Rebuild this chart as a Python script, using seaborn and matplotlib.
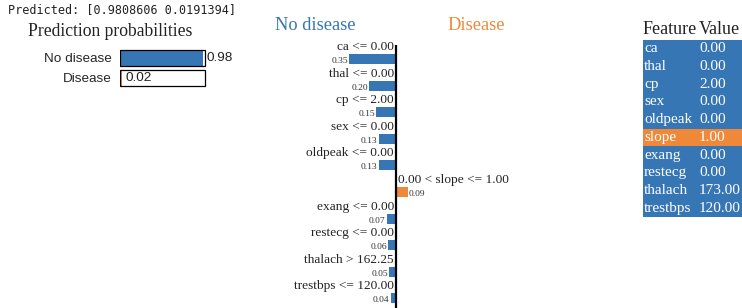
import numpy as np
import pandas as pd
import matplotlib
matplotlib.use("Agg")
import matplotlib.pyplot as plt
import seaborn as sns

# data read from the LIME explanation
class_names = ["No disease", "Disease"]
probs = [0.9808606, 0.0191394]
conditions = ["ca <= 0.00", "thal <= 0.00", "cp <= 2.00", "sex <= 0.00",
              "oldpeak <= 0.00", "0.00 < slope <= 1.00", "exang <= 0.00",
              "restecg <= 0.00", "thalach > 162.25", "trestbps <= 120.00"]
weights = [-0.35, -0.20, -0.15, -0.13, -0.13, 0.09, -0.07, -0.06, -0.05, -0.04]
features = ["ca", "thal", "cp", "sex", "oldpeak", "slope", "exang",
            "restecg", "thalach", "trestbps"]
feat_values = [0.00, 0.00, 2.00, 0.00, 0.00, 1.00, 0.00, 0.00, 173.00, 120.00]

BLUE = "#3776b5"
ORANGE = "#f0883a"
W, H = 742, 308

sns.set_theme(style="white")
plt.rcParams["font.family"] = ["Liberation Serif", "DejaVu Sans"]

fig = plt.figure(figsize=(W / 100, H / 100), dpi=100)


def px_axes(x, y, w, h):
    return fig.add_axes([x / W, 1 - (y + h) / H, w / W, h / H])


# overlay for free text
over = px_axes(0, 0, W, H)
over.set_xlim(0, W)
over.set_ylim(H, 0)
over.axis("off")
over.text(8, 10, "Predicted: [%.7f %.7f]" % tuple(probs), family="DejaVu Sans Mono",
          fontsize=8.5, va="center", ha="left", color="#222222")
over.text(28, 32, "Prediction probabilities", fontsize=12.7, va="center", ha="left", color="#222222")
over.text(275, 25, class_names[0], fontsize=13.2, color=BLUE, va="center", ha="left")
over.text(447, 25, class_names[1], fontsize=13.2, color=ORANGE, va="center", ha="left")

# prediction probability bars
pa = px_axes(120, 48, 120, 40)
pdf = pd.DataFrame({"cls": class_names, "p": probs})
sns.barplot(data=pdf, y="cls", x="p", hue="cls", palette=[BLUE, ORANGE],
            width=0.8, legend=False, ax=pa, linewidth=0, saturation=1)
sns.barplot(data=pdf.assign(full=1.0), y="cls", x="full", width=0.8, fill=False,
            color="black", linewidth=0.9, ax=pa, errorbar=None, saturation=1)
pa.set_xlim(0, 120 / 85)
pa.set_ylim(1.5, -0.5)
pa.set_xlabel("")
pa.set_ylabel("")
pa.set_xticks([])
pa.tick_params(axis="y", length=0, pad=6, labelsize=9.7)
for lab in pa.get_yticklabels():
    lab.set_family("Liberation Sans")
for s in pa.spines.values():
    s.set_visible(False)
pa.text(probs[0] + 0.04, 0, "%.2f" % probs[0], va="center", ha="left",
        fontsize=9.7, family="Liberation Sans", color="#222222")
pa.text(0.07, 1, "%.2f" % probs[1], va="center", ha="left",
        fontsize=9.7, family="Liberation Sans", color="#222222")

# explanation bars
ea = px_axes(260, 40, 260, H - 40)
edf = pd.DataFrame({"cond": conditions, "w": weights,
                    "side": ["pos" if w > 0 else "neg" for w in weights]})
sns.barplot(data=edf, y="cond", x="w", hue="side", palette={"neg": BLUE, "pos": ORANGE},
            width=0.37, dodge=False, legend=False, ax=ea, linewidth=0, saturation=1)
scale = 134.0
row = 26.6
ea.set_xlim(-(396 - 260) / scale, (520 - 396) / scale)
ea.set_ylim((H - 59) / row, (40 - 59) / row)
ea.axis("off")
ea.plot([0, 0], [(45 - 59) / row, (H - 59) / row], color="black", lw=1.6,
        solid_capstyle="butt")
for i, (c, w) in enumerate(zip(conditions, weights)):
    dx = 2 / scale
    if w < 0:
        ea.text(-dx, i - 12 / row, c, ha="right", va="center", fontsize=9.6, color="#222222")
        ea.text(w - dx / 2, i + 2 / row, "%.2f" % abs(w), ha="right", va="center",
                fontsize=6.8, color="#333333")
    else:
        ea.text(dx, i - 12 / row, c, ha="left", va="center", fontsize=9.6, color="#222222")
        ea.text(w + dx / 2, i + 2 / row, "%.2f" % abs(w), ha="left", va="center",
                fontsize=6.8, color="#333333")

# feature value table
ta = px_axes(643, 40, 99, 177)
n = len(features)
ta.set_xlim(0, 99)
ta.set_ylim(n, 0)
ta.axis("off")
for i, (f, v) in enumerate(zip(features, feat_values)):
    ta.axhspan(i, i + 1, color=ORANGE if weights[i] > 0 else BLUE, lw=0)
    ta.text(1, i + 0.5, f, color="white", va="center", ha="left", fontsize=11)
    ta.text(56, i + 0.5, "%.2f" % v, color="white", va="center", ha="left", fontsize=11)
over.text(643, 30, "Feature", fontsize=13, va="center", ha="left", color="#222222")
over.text(699, 30, "Value", fontsize=13, va="center", ha="left", color="#222222")

fig.savefig("out.png", dpi=100)
